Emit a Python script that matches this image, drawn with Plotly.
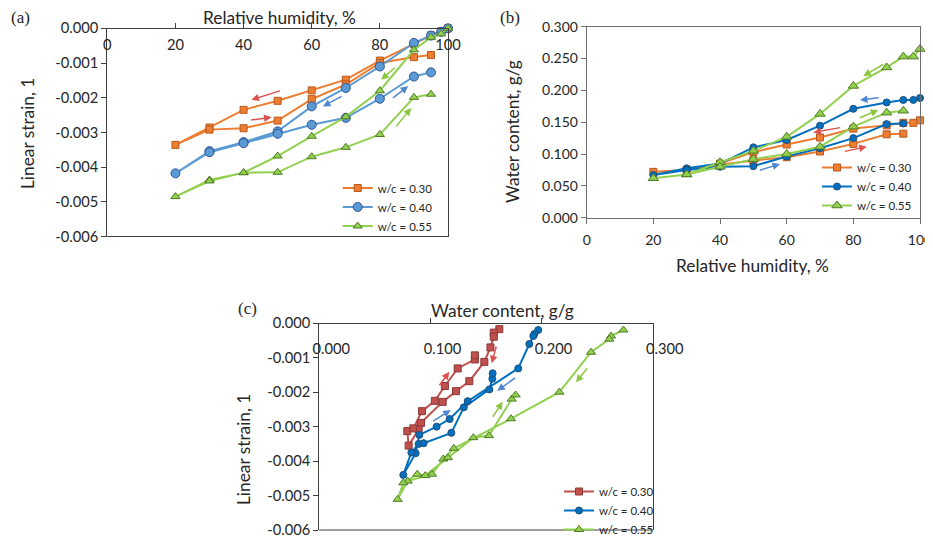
import plotly.graph_objects as go

# ---------------- data ----------------
RH_DES = [100, 98, 95, 90, 80, 70, 60, 50, 40, 30, 20]
RH_ABS = [30, 40, 50, 60, 70, 80, 90, 95]
RH = RH_DES + RH_ABS

SERIES = ["w/c = 0.30", "w/c = 0.40", "w/c = 0.55"]

# (a) linear strain (x 1e-3) vs RH : desorption then absorption
STRAIN_030 = [0, -0.08, -0.20, -0.45, -0.93, -1.48, -1.79, -2.09, -2.35, -2.86, -3.36,
              -2.92, -2.88, -2.66, -2.04, -1.62, -1.00, -0.83, -0.77]
STRAIN_040 = [0, -0.10, -0.21, -0.42, -1.10, -1.72, -2.25, -2.97, -3.28, -3.54, -4.18,
              -3.57, -3.31, -3.04, -2.78, -2.58, -2.03, -1.39, -1.27]
STRAIN_055 = [0, -0.16, -0.26, -0.62, -1.80, -2.55, -3.11, -3.68, -4.16, -4.37, -4.85,
              -4.40, -4.16, -4.15, -3.70, -3.43, -3.06, -1.99, -1.90]

# (b) water content (g/g) vs RH
WC_030 = [0.153, 0.149, 0.149, 0.145, 0.140, 0.126, 0.115, 0.103, 0.085, 0.075, 0.072,
          0.075, 0.083, 0.090, 0.095, 0.104, 0.116, 0.131, 0.132]
WC_040 = [0.188, 0.185, 0.185, 0.181, 0.171, 0.1445, 0.122, 0.1105, 0.085, 0.0775, 0.067,
          0.075, 0.080, 0.081, 0.096, 0.109, 0.125, 0.147, 0.148]
WC_055 = [0.265, 0.253, 0.253, 0.236, 0.207, 0.163, 0.127, 0.105, 0.087, 0.068, 0.062,
          0.068, 0.080, 0.092, 0.100, 0.1115, 0.143, 0.165, 0.168]

# (c) linear strain (x 1e-3) vs water content
C_WC_030 = [0.162, 0.157, 0.157, 0.154, 0.1485, 0.135, 0.123, 0.111, 0.0915, 0.0894, 0.0804,
            0.0792, 0.0846, 0.0924, 0.104, 0.113, 0.1245, 0.140, 0.140]
C_ST_030 = [-0.17, -0.27, -0.39, -0.70, -1.12, -1.68, -1.97, -2.28, -2.89, -3.08, -3.55,
            -3.13, -3.05, -2.55, -2.25, -1.82, -1.31, -1.05, -0.93]
C_WC_040 = [0.197, 0.1935, 0.1926, 0.189, 0.179, 0.1335, 0.1173, 0.1056, 0.090, 0.0867, 0.0756,
            0.0828, 0.0894, 0.0939, 0.1188, 0.130, 0.153, 0.1557, 0.156]
C_ST_040 = [-0.195, -0.31, -0.37, -0.60, -1.31, -2.26, -2.78, -3.00, -3.24, -3.77, -4.40,
            -3.75, -3.50, -3.48, -3.18, -2.44, -1.92, -1.61, -1.45]
C_WC_055 = [0.2736, 0.2625, 0.261, 0.2445, 0.216, 0.1725, 0.121, 0.1116, 0.1014, 0.0795, 0.0705,
            0.0756, 0.0882, 0.0954, 0.1158, 0.1386, 0.1527, 0.1731, 0.1767]
C_ST_055 = [-0.195, -0.37, -0.46, -0.84, -2.00, -2.77, -3.63, -3.94, -4.38, -4.58, -5.11,
            -4.63, -4.38, -4.42, -3.90, -3.32, -3.26, -2.20, -2.08]

# tick values / labels
RH_TICKS = [0, 20, 40, 60, 80, 100]
STRAIN_TICKS = [0, -0.001, -0.002, -0.003, -0.004, -0.005, -0.006]
STRAIN_LABELS = ["0.000", "-0.001", "-0.002", "-0.003", "-0.004", "-0.005", "-0.006"]
WC_TICKS_B = [0, 0.05, 0.10, 0.15, 0.20, 0.25, 0.30]
WC_LABELS_B = ["0.000", "0.050", "0.100", "0.150", "0.200", "0.250", "0.300"]
WC_TICKS_C = [0, 0.1, 0.2, 0.3]
WC_LABELS_C = ["0.000", "0.100", "0.200", "0.300"]

# direction arrows: (tail_x, tail_y, head_x, head_y, colour-key)
ARROWS_A = [(51.1, -1.79, 42.3, -2.06, "r"), (41.8, -2.65, 48.2, -2.56, "r"),
            (69.2, -1.94, 63.3, -2.25, "b"), (83.4, -2.04, 88.3, -1.67, "b"),
            (84.8, -1.10, 80.4, -1.48, "g"), (84.4, -2.87, 89.2, -2.30, "g")]
ARROWS_B = [(76.5, 0.1419, 68.0, 0.1340, "r"), (77.0, 0.1037, 84.0, 0.1115, "r"),
            (88.0, 0.1885, 82.0, 0.1848, "b"), (51.5, 0.0738, 58.0, 0.0843, "b"),
            (89.5, 0.2424, 83.0, 0.2225, "g"), (81.5, 0.1560, 87.5, 0.1691, "g")]
ARROWS_C = [(0.1071, -1.84, 0.117, -1.41, "r"), (0.1596, -0.63, 0.1551, -1.16, "r"),
            (0.1011, -2.87, 0.1182, -2.52, "b"), (0.1776, -1.55, 0.1602, -1.96, "b"),
            (0.2421, -1.26, 0.231, -1.71, "g"), (0.1551, -2.76, 0.165, -2.28, "g")]

# ---------------- styles ----------------
FONT = "Lato, 'Open Sans', sans-serif"
AXC = "#404040"
AXC_B = "#6E6E6E"
TXT = "#262626"
ARROW_COL = {"r": "#D9534F", "b": "#4F86D0", "g": "#8CC63F"}
OFF = 8                      # page body margin in the browser
W, H = 933 - OFF, 545 - OFF  # figure fits exactly in the window

def px(x):  # window px -> paper fraction
    return (x - OFF) / W
def py(y):
    return 1 - (y - OFF) / H

def e3(v):
    return [x * 1e-3 for x in v]

fig = go.Figure()

def add(x, y, xa, ya, name, lg, color, fill, edge, symbol, size):
    fig.add_trace(go.Scatter(
        x=x, y=y, xaxis=xa, yaxis=ya, name=name, legend=lg, mode="lines+markers",
        line=dict(color=color, width=2),
        marker=dict(symbol=symbol, size=size, color=fill, line=dict(color=edge, width=1)),
        cliponaxis=False, showlegend=True))

# (a)
add(RH, e3(STRAIN_030), "x", "y", SERIES[0], "legend", "#ED7D31", "#ED7D31", "#B85A1E", "square", 7)
add(RH, e3(STRAIN_040), "x", "y", SERIES[1], "legend", "#5B9BD5", "#5B9BD5", "#2F5597", "circle", 9)
add(RH, e3(STRAIN_055), "x", "y", SERIES[2], "legend", "#92D050", "#92D050", "#4E7A25", "triangle-up", 8)
# (b)
add(RH, WC_030, "x2", "y2", SERIES[0], "legend2", "#ED7D31", "#ED7D31", "#B85A1E", "square", 7)
add(RH, WC_040, "x2", "y2", SERIES[1], "legend2", "#0070C0", "#0070C0", "#1F4E79", "circle", 7)
add(RH, WC_055, "x2", "y2", SERIES[2], "legend2", "#92D050", "#92D050", "#4E7A25", "triangle-up", 9)
# (c)
add(C_WC_030, e3(C_ST_030), "x3", "y3", SERIES[0], "legend3", "#C0504D", "#C0504D", "#8C3836", "square", 7)
add(C_WC_040, e3(C_ST_040), "x3", "y3", SERIES[1], "legend3", "#0070C0", "#0070C0", "#1F4E79", "circle", 7)
add(C_WC_055, e3(C_ST_055), "x3", "y3", SERIES[2], "legend3", "#92D050", "#92D050", "#4E7A25", "triangle-up", 8)

annotations = []
def arrows(lst, xr, yr, scale):
    for tx, ty, hx, hy, c in lst:
        annotations.append(dict(x=hx, y=hy * scale, ax=tx, ay=ty * scale, xref=xr, yref=yr,
                                axref=xr, ayref=yr, text="", showarrow=True, arrowhead=2,
                                arrowsize=1, arrowwidth=1.5, arrowcolor=ARROW_COL[c]))
arrows(ARROWS_A, "x", "y", 1e-3)
arrows(ARROWS_B, "x2", "y2", 1)
arrows(ARROWS_C, "x3", "y3", 1e-3)

def label(text, x, y, angle=0, size=17.3, family=FONT):
    annotations.append(dict(text=text, x=px(x), y=py(y), xref="paper", yref="paper",
                            showarrow=False, textangle=angle, borderpad=0,
                            font=dict(family=family, size=size, color=TXT),
                            xanchor="center", yanchor="middle"))

SERIF = "'Liberation Serif', 'DejaVu Serif', serif"
label("Relative humidity, %", 279, 18)
label("Linear strain, 1", 28, 134, -90)
label("Water content, g/g", 513, 132, -90)
label("Relative humidity, %", 752, 265)
label("Water content, g/g", 502, 310)
label("Linear strain, 1", 243, 450, -90)
label("(a)", 20, 18, size=17, family=SERIF)
label("(b)", 510, 18, size=17, family=SERIF)
label("(c)", 247, 308, size=17, family=SERIF)

def common(color=AXC, size=14.7):
    return dict(showgrid=False, zeroline=False, showline=True, linecolor=color, linewidth=1,
                ticklen=5, tickcolor=color, fixedrange=True, ticklabeloverflow="allow",
                tickfont=dict(family=FONT, size=size, color=TXT))

legfont = dict(family=FONT, size=11.5, color=TXT)
def leg(x, y):
    return dict(x=px(x), y=py(y), xanchor="left", yanchor="top", bgcolor="rgba(0,0,0,0)",
                font=legfont, itemwidth=30, tracegroupgap=0)

# plot-area extents in window pixels
A_X = (107.3, 448.0); A_Y = (28.3, 236.5)
B_X = (586.7, 920.0); B_Y = (26.7, 217.7)
C_X = (319.3, 652.7); C_Y = (323.3, 530.0)
def dx(p): return [px(p[0]), px(p[1])]
def dy(p): return [py(p[1]), py(p[0])]

fig.update_layout(
    width=W, height=H, margin=dict(l=0, r=0, t=0, b=0, autoexpand=False),
    paper_bgcolor="white", plot_bgcolor="white",
    xaxis=dict(domain=dx(A_X), range=[0, 100], anchor="free", position=py(A_Y[0]),
               side="bottom", ticks="inside", ticklabelstandoff=3,
               tickvals=RH_TICKS, **common()),
    yaxis=dict(domain=dy(A_Y), range=[-0.006, 0], anchor="x", ticks="outside",
               tickvals=STRAIN_TICKS, ticktext=STRAIN_LABELS, mirror=True, **common()),
    xaxis2=dict(domain=dx(B_X), range=[0, 100], anchor="y2", ticks="outside",
                ticklabelstandoff=4, tickvals=RH_TICKS, mirror=True, **common(AXC_B, 14)),
    yaxis2=dict(domain=dy(B_Y), range=[0, 0.3], anchor="x2", ticks="outside",
                tickvals=WC_TICKS_B, ticktext=WC_LABELS_B, mirror=True, **common(AXC_B, 14)),
    xaxis3=dict(domain=dx(C_X), range=[0, 0.3], anchor="free", position=py(C_Y[0]),
                side="bottom", ticks="inside", ticklabelstandoff=12, ticklabelshift=12,
                tickvals=WC_TICKS_C, ticktext=WC_LABELS_C, **common()),
    yaxis3=dict(domain=dy(C_Y), range=[-0.006, 0], anchor="x3", ticks="outside",
                tickvals=STRAIN_TICKS, ticktext=STRAIN_LABELS, mirror=True, **common()),
    legend=leg(337.7, 173.5),
    legend2=leg(817, 153),
    legend3=leg(559, 477),
    annotations=annotations,
    shapes=[
        dict(type="line", xref="x domain", yref="y domain", x0=0, x1=1, y0=0, y1=0,
             line=dict(color=AXC, width=1)),
        dict(type="line", xref="x3 domain", yref="y3 domain", x0=0, x1=1, y0=0, y1=0,
             line=dict(color=AXC, width=1)),
    ],
)

fig.write_html("out.html")
